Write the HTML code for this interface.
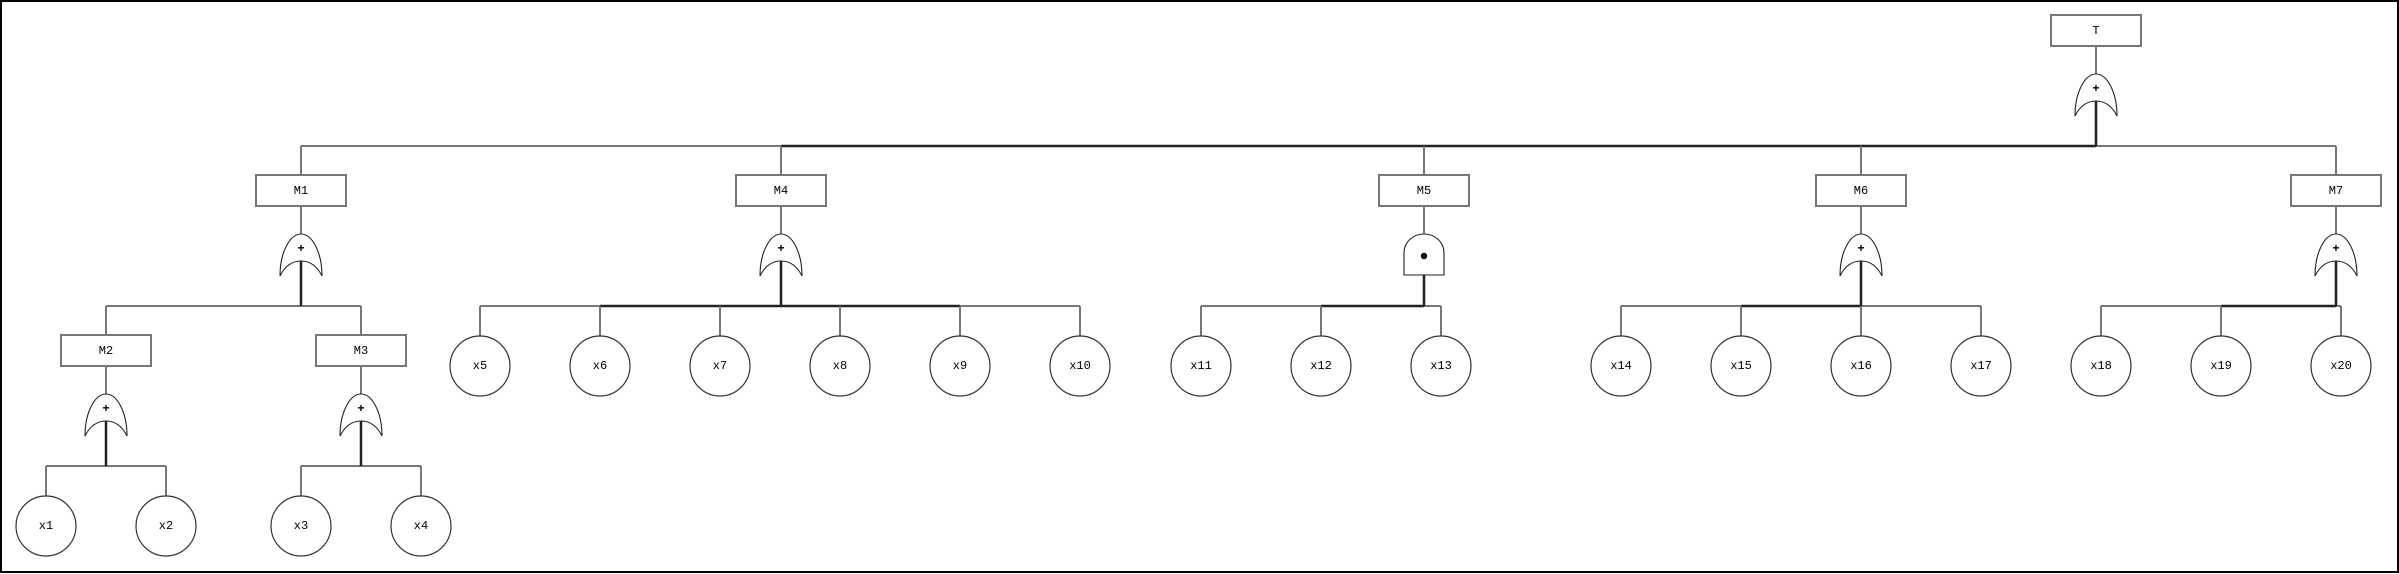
<!DOCTYPE html>
<html><head><meta charset="utf-8"><style>
html,body{margin:0;padding:0;background:#fff;}
svg{display:block;}
text{font-family:"Liberation Mono","Noto Sans CJK SC",monospace;font-size:12px;fill:#000;text-anchor:middle;dominant-baseline:central;}
.g{stroke:#777;stroke-width:2;fill:none;}
.k{stroke:#222;stroke-width:2.5;fill:none;}
.bx{fill:#fff;stroke:#777;stroke-width:2;}
.c{fill:#fff;stroke:#333;stroke-width:1.2;}
.gate{fill:#fff;stroke:#222;stroke-width:1.1;}
</style></head><body>
<svg width="2399" height="574" viewBox="0 0 2399 574" xmlns="http://www.w3.org/2000/svg">
<defs>
<path id="or" class="gate" d="M-21 42 C-21 18 -11 0 0 0 C11 0 21 18 21 42 C16 32 9 27 0 27 C-9 27 -16 32 -21 42 Z"/>
</defs>
<rect x="1" y="1" width="2397" height="571" fill="#fff" stroke="#000" stroke-width="2"/>

<!-- T -->
<line class="g" x1="2096" y1="46" x2="2096" y2="75"/>
<rect class="bx" x="2051" y="15" width="90" height="31"/><text x="2096" y="31">T</text>
<!-- top bus -->
<line class="g" x1="301" y1="146" x2="781" y2="146"/>
<line class="k" x1="781" y1="146" x2="2096" y2="146"/>
<line class="g" x1="2096" y1="146" x2="2336" y2="146"/>
<line class="k" x1="2096" y1="100" x2="2096" y2="146"/>
<use href="#or" x="2096" y="74"/><text x="2096" y="89" font-weight="bold">+</text>

<!-- level1 verticals -->
<line class="g" x1="301" y1="146" x2="301" y2="176"/>
<line class="g" x1="781" y1="146" x2="781" y2="176"/>
<line class="g" x1="1424" y1="146" x2="1424" y2="176"/>
<line class="g" x1="1861" y1="146" x2="1861" y2="176"/>
<line class="g" x1="2336" y1="146" x2="2336" y2="176"/>
<line class="g" x1="301" y1="206" x2="301" y2="235"/>
<line class="g" x1="781" y1="206" x2="781" y2="235"/>
<line class="g" x1="1424" y1="206" x2="1424" y2="235"/>
<line class="g" x1="1861" y1="206" x2="1861" y2="235"/>
<line class="g" x1="2336" y1="206" x2="2336" y2="235"/>

<rect class="bx" x="256" y="175" width="90" height="31"/><text x="301" y="191">M1</text>
<rect class="bx" x="736" y="175" width="90" height="31"/><text x="781" y="191">M4</text>
<rect class="bx" x="1379" y="175" width="90" height="31"/><text x="1424" y="191">M5</text>
<rect class="bx" x="1816" y="175" width="90" height="31"/><text x="1861" y="191">M6</text>
<rect class="bx" x="2291" y="175" width="90" height="31"/><text x="2336" y="191">M7</text>

<!-- M1 -->
<line class="g" x1="106" y1="306" x2="361" y2="306"/>
<line class="k" x1="301" y1="260" x2="301" y2="306"/>
<use href="#or" x="301" y="234"/><text x="301" y="249" font-weight="bold">+</text>
<line class="g" x1="106" y1="306" x2="106" y2="336"/>
<line class="g" x1="361" y1="306" x2="361" y2="336"/>
<line class="g" x1="106" y1="366" x2="106" y2="395"/>
<line class="g" x1="361" y1="366" x2="361" y2="395"/>
<rect class="bx" x="61" y="335" width="90" height="31"/><text x="106" y="351">M2</text>
<rect class="bx" x="316" y="335" width="90" height="31"/><text x="361" y="351">M3</text>
<!-- M2 -->
<line class="g" x1="46" y1="466" x2="166" y2="466"/>
<line class="k" x1="106" y1="420" x2="106" y2="466"/>
<use href="#or" x="106" y="394"/><text x="106" y="409" font-weight="bold">+</text>
<line class="g" x1="46" y1="466" x2="46" y2="496"/>
<line class="g" x1="166" y1="466" x2="166" y2="496"/>
<circle class="c" cx="46" cy="526" r="30"/><text x="46" y="526">x1</text>
<circle class="c" cx="166" cy="526" r="30"/><text x="166" y="526">x2</text>
<!-- M3 -->
<line class="g" x1="301" y1="466" x2="421" y2="466"/>
<line class="k" x1="361" y1="420" x2="361" y2="466"/>
<use href="#or" x="361" y="394"/><text x="361" y="409" font-weight="bold">+</text>
<line class="g" x1="301" y1="466" x2="301" y2="496"/>
<line class="g" x1="421" y1="466" x2="421" y2="496"/>
<circle class="c" cx="301" cy="526" r="30"/><text x="301" y="526">x3</text>
<circle class="c" cx="421" cy="526" r="30"/><text x="421" y="526">x4</text>

<!-- M4 -->
<line class="g" x1="480" y1="306" x2="1080" y2="306"/>
<line class="k" x1="600" y1="306" x2="960" y2="306"/>
<line class="k" x1="781" y1="260" x2="781" y2="306"/>
<use href="#or" x="781" y="234"/><text x="781" y="249" font-weight="bold">+</text>
<!-- M5 AND -->
<line class="g" x1="1201" y1="306" x2="1441" y2="306"/>
<line class="k" x1="1321" y1="306" x2="1424" y2="306"/>
<line class="k" x1="1424" y1="275" x2="1424" y2="306"/>
<path class="gate" d="M1404 275 L1404 253 C1404 242 1413 234 1424 234 C1435 234 1444 242 1444 253 L1444 275 Z" stroke="#555" stroke-width="1.5"/>
<circle cx="1424" cy="256" r="3.2" fill="#000"/>
<!-- M6 -->
<line class="g" x1="1621" y1="306" x2="1981" y2="306"/>
<line class="k" x1="1741" y1="306" x2="1861" y2="306"/>
<line class="k" x1="1861" y1="260" x2="1861" y2="306"/>
<use href="#or" x="1861" y="234"/><text x="1861" y="249" font-weight="bold">+</text>
<!-- M7 -->
<line class="g" x1="2101" y1="306" x2="2341" y2="306"/>
<line class="k" x1="2221" y1="306" x2="2336" y2="306"/>
<line class="k" x1="2336" y1="260" x2="2336" y2="306"/>
<use href="#or" x="2336" y="234"/><text x="2336" y="249" font-weight="bold">+</text>

<!-- leaves -->
<g class="g">
<line x1="480" y1="306" x2="480" y2="336"/><line x1="600" y1="306" x2="600" y2="336"/>
<line x1="720" y1="306" x2="720" y2="336"/><line x1="840" y1="306" x2="840" y2="336"/>
<line x1="960" y1="306" x2="960" y2="336"/><line x1="1080" y1="306" x2="1080" y2="336"/>
<line x1="1201" y1="306" x2="1201" y2="336"/><line x1="1321" y1="306" x2="1321" y2="336"/>
<line x1="1441" y1="306" x2="1441" y2="336"/><line x1="1621" y1="306" x2="1621" y2="336"/>
<line x1="1741" y1="306" x2="1741" y2="336"/><line x1="1861" y1="306" x2="1861" y2="336"/>
<line x1="1981" y1="306" x2="1981" y2="336"/><line x1="2101" y1="306" x2="2101" y2="336"/>
<line x1="2221" y1="306" x2="2221" y2="336"/><line x1="2341" y1="306" x2="2341" y2="336"/>
</g>
<circle class="c" cx="480" cy="366" r="30"/><text x="480" y="366">x5</text>
<circle class="c" cx="600" cy="366" r="30"/><text x="600" y="366">x6</text>
<circle class="c" cx="720" cy="366" r="30"/><text x="720" y="366">x7</text>
<circle class="c" cx="840" cy="366" r="30"/><text x="840" y="366">x8</text>
<circle class="c" cx="960" cy="366" r="30"/><text x="960" y="366">x9</text>
<circle class="c" cx="1080" cy="366" r="30"/><text x="1080" y="366">x10</text>
<circle class="c" cx="1201" cy="366" r="30"/><text x="1201" y="366">x11</text>
<circle class="c" cx="1321" cy="366" r="30"/><text x="1321" y="366">x12</text>
<circle class="c" cx="1441" cy="366" r="30"/><text x="1441" y="366">x13</text>
<circle class="c" cx="1621" cy="366" r="30"/><text x="1621" y="366">x14</text>
<circle class="c" cx="1741" cy="366" r="30"/><text x="1741" y="366">x15</text>
<circle class="c" cx="1861" cy="366" r="30"/><text x="1861" y="366">x16</text>
<circle class="c" cx="1981" cy="366" r="30"/><text x="1981" y="366">x17</text>
<circle class="c" cx="2101" cy="366" r="30"/><text x="2101" y="366">x18</text>
<circle class="c" cx="2221" cy="366" r="30"/><text x="2221" y="366">x19</text>
<circle class="c" cx="2341" cy="366" r="30"/><text x="2341" y="366">x20</text>
</svg>
</body></html>
